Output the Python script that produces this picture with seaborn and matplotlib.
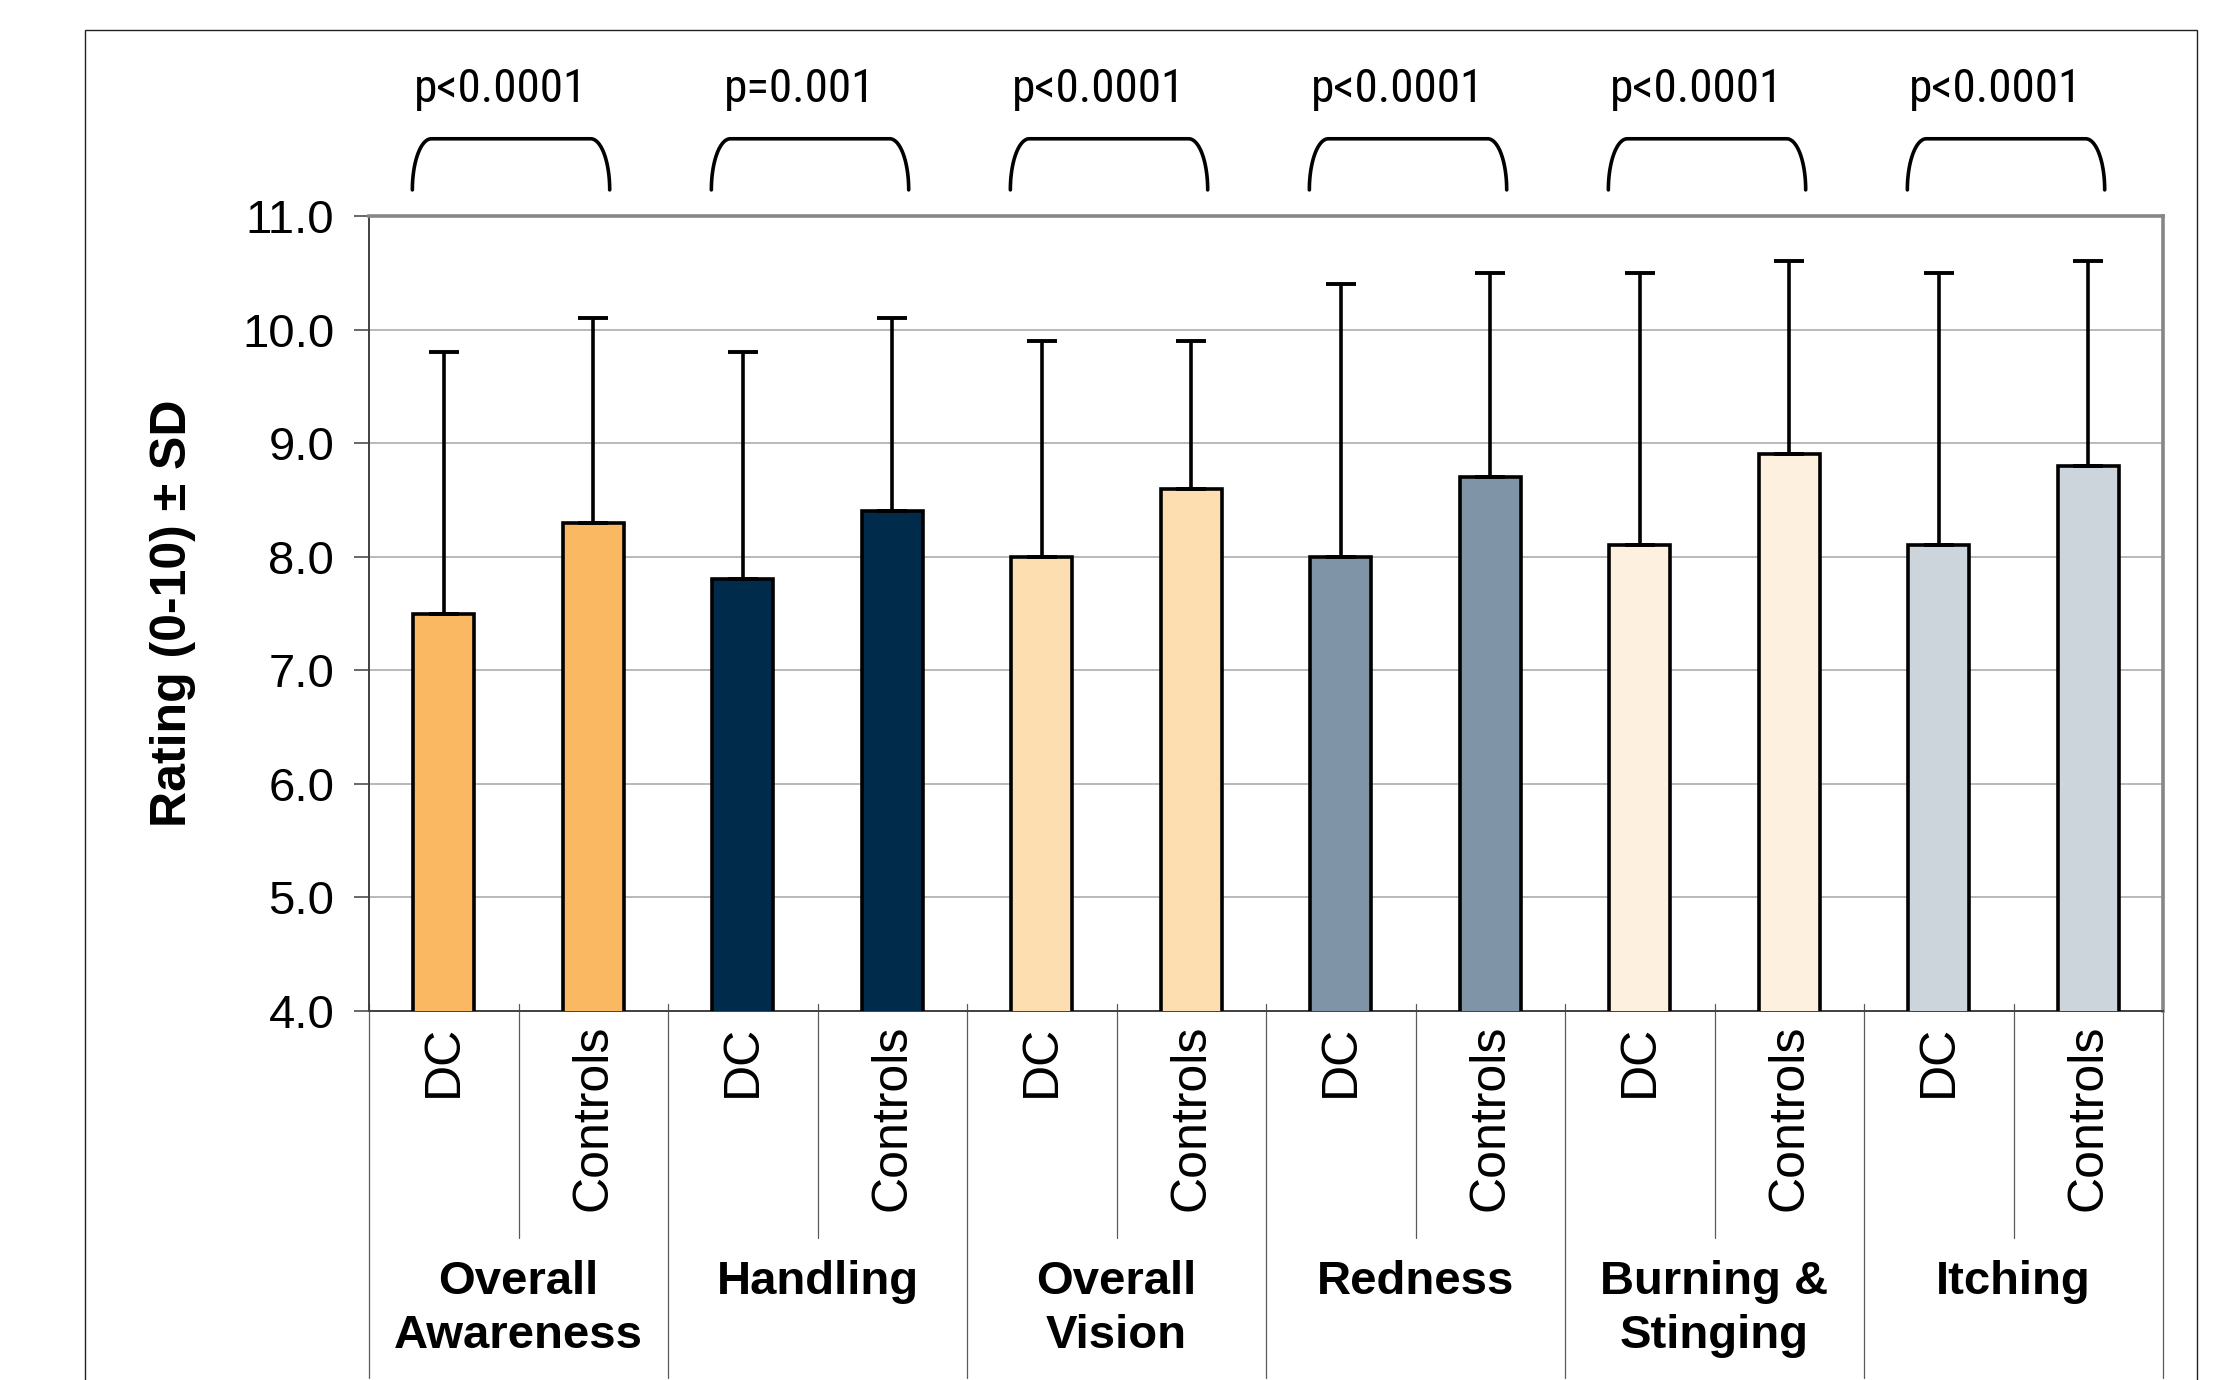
import numpy as np
import pandas as pd
import matplotlib
matplotlib.use("Agg")
import matplotlib.pyplot as plt
import seaborn as sns
from matplotlib import font_manager as fm
from matplotlib.patches import Rectangle
from matplotlib.ticker import FormatStrFormatter

# ---- data -------------------------------------------------------------
attributes = ["Overall\nAwareness", "Handling", "Overall\nVision",
              "Redness", "Burning &\nStinging", "Itching"]
groups = ["DC", "Controls"]
dc_mean = [7.5, 7.8, 8.0, 8.0, 8.1, 8.1]
dc_sd = [2.3, 2.0, 1.9, 2.4, 2.4, 2.4]
ctrl_mean = [8.3, 8.4, 8.6, 8.7, 8.9, 8.8]
ctrl_sd = [1.8, 1.7, 1.3, 1.8, 1.7, 1.8]
p_values = ["p<0.0001", "p=0.001", "p<0.0001", "p<0.0001", "p<0.0001", "p<0.0001"]
attr_colors = ["#FBB862", "#012B4A", "#FDDEB1", "#7F95A7", "#FDF0DF", "#CCD4DC"]
y_ticks = [4.0, 5.0, 6.0, 7.0, 8.0, 9.0, 10.0, 11.0]
y_label = "Rating (0-10) \u00b1 SD"

# ---- style ------------------------------------------------------------
sns.set_style("white")
plt.rcParams["font.family"] = ["Liberation Sans", "DejaVu Sans"]
plt.rcParams["text.color"] = "black"
plt.rcParams["xtick.color"] = "black"
plt.rcParams["ytick.color"] = "black"
plt.rcParams["axes.labelcolor"] = "black"


def narrow_font():
    """Pick a condensed sans face for the p-value captions, if one exists."""
    wanted = ["Liberation Sans Narrow", "Roboto Condensed", "DejaVu Sans Condensed",
              "Open Sans Condensed", "Noto Sans Condensed"]
    regular = (400, "normal", "regular", "book")
    for name in wanted:
        for f in fm.fontManager.ttflist:
            if f.name == name and f.weight in regular and f.style == "normal":
                return fm.FontProperties(fname=f.fname), True
    for f in fm.fontManager.ttflist:
        tag = f.name + " " + str(f.stretch)
        if (("ondensed" in tag or "Narrow" in tag) and f.style == "normal"
                and f.weight in regular):
            return fm.FontProperties(fname=f.fname), True
    return fm.FontProperties(family="Liberation Sans"), False


# ---- tidy table -------------------------------------------------------
rows = []
for i, attr in enumerate(attributes):
    for g, means, sds in (("DC", dc_mean, dc_sd), ("Controls", ctrl_mean, ctrl_sd)):
        rows.append({"key": f"{i}-{g}", "attribute": attr, "group": g,
                     "mean": means[i], "sd": sds[i], "color": attr_colors[i]})
df = pd.DataFrame(rows)
keys = list(df["key"])
x_pos = np.arange(len(df))

# ---- figure -----------------------------------------------------------
W, H = 2224, 1380
fig = plt.figure(figsize=(W / 100, H / 100), dpi=100)
ax = fig.add_axes([369 / W, 1 - 1011 / H, 1794 / W, 795 / H])

sns.barplot(data=df, x="key", y="mean", hue="key", order=keys, hue_order=keys,
            palette=list(df["color"]), legend=False, errorbar=None, width=0.41,
            edgecolor="black", linewidth=2.6, saturation=1, ax=ax, zorder=3)

# upward-only SD whiskers
ax.errorbar(x_pos, df["mean"], yerr=[np.zeros(len(df)), df["sd"]], fmt="none",
            ecolor="black", elinewidth=2.6, capsize=11, capthick=2.8, zorder=4)

ax.set_xlim(-0.5, len(df) - 0.5)
ax.set_ylim(y_ticks[0], y_ticks[-1])
ax.set_yticks(y_ticks)
ax.yaxis.set_major_formatter(FormatStrFormatter("%.1f"))
ax.set_xticks(x_pos)
ax.set_xticklabels(df["group"], rotation=90, fontsize=36, color="black")
ax.tick_params(axis="x", length=0, pad=10)
ax.tick_params(axis="y", left=True, direction="out", length=11, width=1.1,
               color="#404040", labelsize=34, labelcolor="black", pad=14)
ax.set_xlabel("")
ax.set_ylabel("")
ax.set_axisbelow(True)
ax.grid(axis="y", color="#A6A6A6", linewidth=1.1)
ax.grid(axis="x", visible=False)

for s in ("top", "right"):
    ax.spines[s].set_color("#868686")
    ax.spines[s].set_linewidth(2.6)
for s in ("left", "bottom"):
    ax.spines[s].set_color("#404040")
    ax.spines[s].set_linewidth(1.4)

# category separators below the axis
xt = ax.get_xaxis_transform()
for k in range(len(df) + 1):
    b = k - 0.5
    bottom = -0.4616 if k % 2 == 0 else -0.2855
    ax.plot([b, b], [0.009, bottom], transform=xt, color="#5A5A5A",
            linewidth=0.9, clip_on=False, zorder=1)

# attribute names under each pair
for i, attr in enumerate(attributes):
    ax.text(2 * i + 0.5, -0.313, attr, transform=xt, ha="center", va="top",
            fontsize=34, fontweight="bold", linespacing=1.3,
            multialignment="center", color="black")

# significance brackets and p-values
pfont, is_narrow = narrow_font()
pfont.set_size(34 if is_narrow else 27)
t = np.linspace(0, np.pi / 2, 40)
y0, y1, rx = 11.23, 11.68, 0.127
for i, p in enumerate(p_values):
    xa = 2 * i - 0.21
    xb = 2 * i + 1 + 0.11
    lx = xa + rx * (1 - np.cos(t))
    ly = y0 + (y1 - y0) * np.sin(t)
    rxs = xb - rx * (1 - np.cos(t[::-1]))
    rys = y0 + (y1 - y0) * np.sin(t[::-1])
    ax.plot(np.concatenate([lx, rxs]), np.concatenate([ly, rys]), color="black",
            linewidth=2.6, solid_capstyle="round", clip_on=False, zorder=5)
    ax.text(2 * i + 0.38, 12.0, p, ha="center", va="baseline",
            fontproperties=pfont, clip_on=False, color="black")

fig.text(173 / W, 1 - 613 / H, y_label, rotation=90, ha="center", va="center",
         fontsize=36, fontweight="bold", color="black")

# outer frame around the whole chart
fig.add_artist(Rectangle((85 / W, -0.05), (2197 - 85) / W, 1.05 - 30 / H,
                         transform=fig.transFigure, fill=False,
                         edgecolor="#222222", linewidth=1.0))

fig.savefig("out.png", dpi=100)
